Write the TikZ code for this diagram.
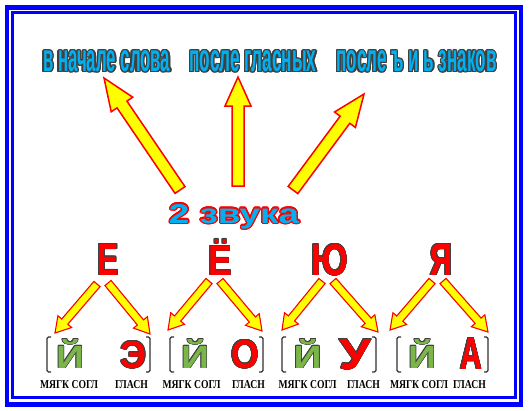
\documentclass[tikz,border=0pt]{standalone}
\usepackage{fontspec}
\usepackage{graphicx}
\setmainfont{Liberation Sans}
\newfontfamily\serifb{Liberation Serif}
\usetikzlibrary{calc}
\definecolor{fr}{HTML}{0000FF}
\definecolor{sky}{HTML}{00B0F0}
\definecolor{dk}{HTML}{404040}
\definecolor{grn}{HTML}{7AB648}
\definecolor{rd}{HTML}{FF0000}
\definecolor{yl}{HTML}{FFFF00}
\definecolor{brc}{HTML}{303030}
% outlined text: #1 outline colour, #2 fill colour, #3 outline radius, #4 text
\newcommand\otext[4]{%
  \leavevmode\rlap{\color{#1}%
    \foreach \a in {0,22.5,...,337.5}{%
      \pgfmathsetlengthmacro\odx{#3*cos(\a)}%
      \pgfmathsetlengthmacro\ody{#3*sin(\a)}%
      \rlap{\kern\odx\raisebox{\ody}{#4}}}}%
  {\color{#2}#4}}
% block arrow: #1 style, #2 tail, #3 tip, #4 shaft half width, #5 head half width, #6 head length
\newcommand\barrow[6]{%
  \coordinate (#2#3n) at ($(#3)!#6!(#2)$);
  \draw[#1] ($(#2)!#4!90:(#3)$) -- ($(#2#3n)!#4!90:(#3)$) -- ($(#2#3n)!#5!90:(#3)$)
    -- (#3) -- ($(#2#3n)!#5!-90:(#3)$) -- ($(#2#3n)!#4!-90:(#3)$) -- ($(#2)!#4!-90:(#3)$) -- cycle;}
\begin{document}
\begin{tikzpicture}[x=1pt,y=1pt,
  lbl/.style={inner sep=0pt, outer sep=0pt, anchor=base},
  bigarr/.style={draw=rd, fill=yl, line width=1.5pt, line join=miter},
  smallarr/.style={draw=rd, fill=yl, line width=1.1pt, line join=miter},
  brk/.style={draw=brc, line width=1.3pt, rounded corners=1.5pt}]
\useasboundingbox (0,0) rectangle (529,-410);
\fill[white] (0,0) rectangle (529,-410);
% frame
\draw[fr, line width=4.5pt] (7,-7.5) rectangle (521,-404.5);
\draw[fr, line width=3pt] (12.8,-12.8) rectangle (515.3,-397);
% top labels
\node[lbl] (l1) at (106.7,-71.5) {\otext{dk}{sky}{1.3pt}{\resizebox{127pt}{21pt}{\bfseries в начале слова}}};
\node[lbl] (l2) at (253,-71.5) {\otext{dk}{sky}{1.3pt}{\resizebox{127pt}{21pt}{\bfseries после гласных}}};
\node[lbl] (l3) at (416.5,-71.5) {\otext{dk}{sky}{1.3pt}{\resizebox{160pt}{21pt}{\bfseries после ъ и ь знаков}}};
% 2 zvuka
\node[lbl] (zv) at (234,-223) {\otext{rd}{sky}{1.4pt}{\resizebox{130pt}{19pt}{\bfseries 2 звука}}};
% big arrows
\coordinate (t1) at (180,-190); \coordinate (p1) at (104,-78);
\coordinate (t2) at (238,-186); \coordinate (p2) at (238,-77);
\coordinate (t3) at (293,-190); \coordinate (p3) at (364,-94);
\barrow{bigarr}{t1}{p1}{6pt}{13pt}{32pt}
\barrow{bigarr}{t2}{p2}{6pt}{13pt}{29pt}
\barrow{bigarr}{t3}{p3}{6pt}{13pt}{32pt}
% letters
\node[lbl] (E) at (108,-275) {\otext{dk}{rd}{0.9pt}{\resizebox{21pt}{31pt}{\bfseries Е}}};
\node[lbl] (Eo) at (220,-275) {\otext{dk}{rd}{0.9pt}{\resizebox{24pt}{36pt}{\bfseries Ё}}};
\node[lbl] (Yu) at (329.5,-275) {\otext{dk}{rd}{0.9pt}{\resizebox{37pt}{31pt}{\bfseries Ю}}};
\node[lbl] (Ya) at (441.5,-275) {\otext{dk}{rd}{0.9pt}{\resizebox{22pt}{31pt}{\bfseries Я}}};
% small arrows
\coordinate (a1) at (97,-284); \coordinate (b1) at (55,-333);
\coordinate (c1) at (108,-283); \coordinate (d1) at (150,-334);
\coordinate (a2) at (209,-281); \coordinate (b2) at (168,-330);
\coordinate (c2) at (220,-281); \coordinate (d2) at (262,-331);
\coordinate (a3) at (322,-281); \coordinate (b3) at (282,-330);
\coordinate (c3) at (333,-281); \coordinate (d3) at (378,-332);
\coordinate (a4) at (432,-281); \coordinate (b4) at (390,-330);
\coordinate (c4) at (443,-281); \coordinate (d4) at (488,-332);
\foreach \i in {1,2,3,4}{
  \barrow{smallarr}{a\i}{b\i}{4pt}{9pt}{15pt}
  \barrow{smallarr}{c\i}{d\i}{4pt}{9pt}{15pt}
}
% brackets
\foreach \l/\r in {47/150, 170/263, 282/376, 397/488}{
  \draw[brk] (\l+4,-337) -- (\l,-337) -- (\l,-372) -- (\l+4,-372);
  \draw[brk] (\r-4,-337) -- (\r,-337) -- (\r,-372) -- (\r-4,-372);
}
% small letters
\node[lbl] (j1) at (70,-368) {\otext{dk}{grn}{0.7pt}{\resizebox{28pt}{29pt}{\bfseries Й}}};
\node[lbl] (j2) at (195,-368) {\otext{dk}{grn}{0.7pt}{\resizebox{28pt}{29pt}{\bfseries Й}}};
\node[lbl] (j3) at (307.5,-368) {\otext{dk}{grn}{0.7pt}{\resizebox{28pt}{29pt}{\bfseries Й}}};
\node[lbl] (j4) at (422,-368) {\otext{dk}{grn}{0.7pt}{\resizebox{28pt}{29pt}{\bfseries Й}}};
\node[lbl] (v1) at (133.5,-368) {\otext{dk}{rd}{0.7pt}{\resizebox{26pt}{27pt}{\bfseries Э}}};
\node[lbl] (v2) at (245,-368) {\otext{dk}{rd}{0.7pt}{\resizebox{28pt}{28pt}{\bfseries О}}};
\node[lbl] (v3) at (355,-369) {\otext{dk}{rd}{0.7pt}{\resizebox{32pt}{30pt}{\bfseries У}}};
\node[lbl] (v4) at (471,-369) {\otext{dk}{rd}{0.7pt}{\resizebox{22pt}{31pt}{\bfseries А}}};
% captions
\foreach \mx/\gx [count=\k] in {69/131.5, 191.5/248.5, 307.5/363.5, 419/469.5}{
  \node[lbl] (m\k) at (\mx,-388) {\resizebox{58pt}{8pt}{\serifb\bfseries МЯГК СОГЛ}};
  \node[lbl] (g\k) at (\gx,-388) {\resizebox{33pt}{8pt}{\serifb\bfseries ГЛАСН}};
}
\end{tikzpicture}
\end{document}
